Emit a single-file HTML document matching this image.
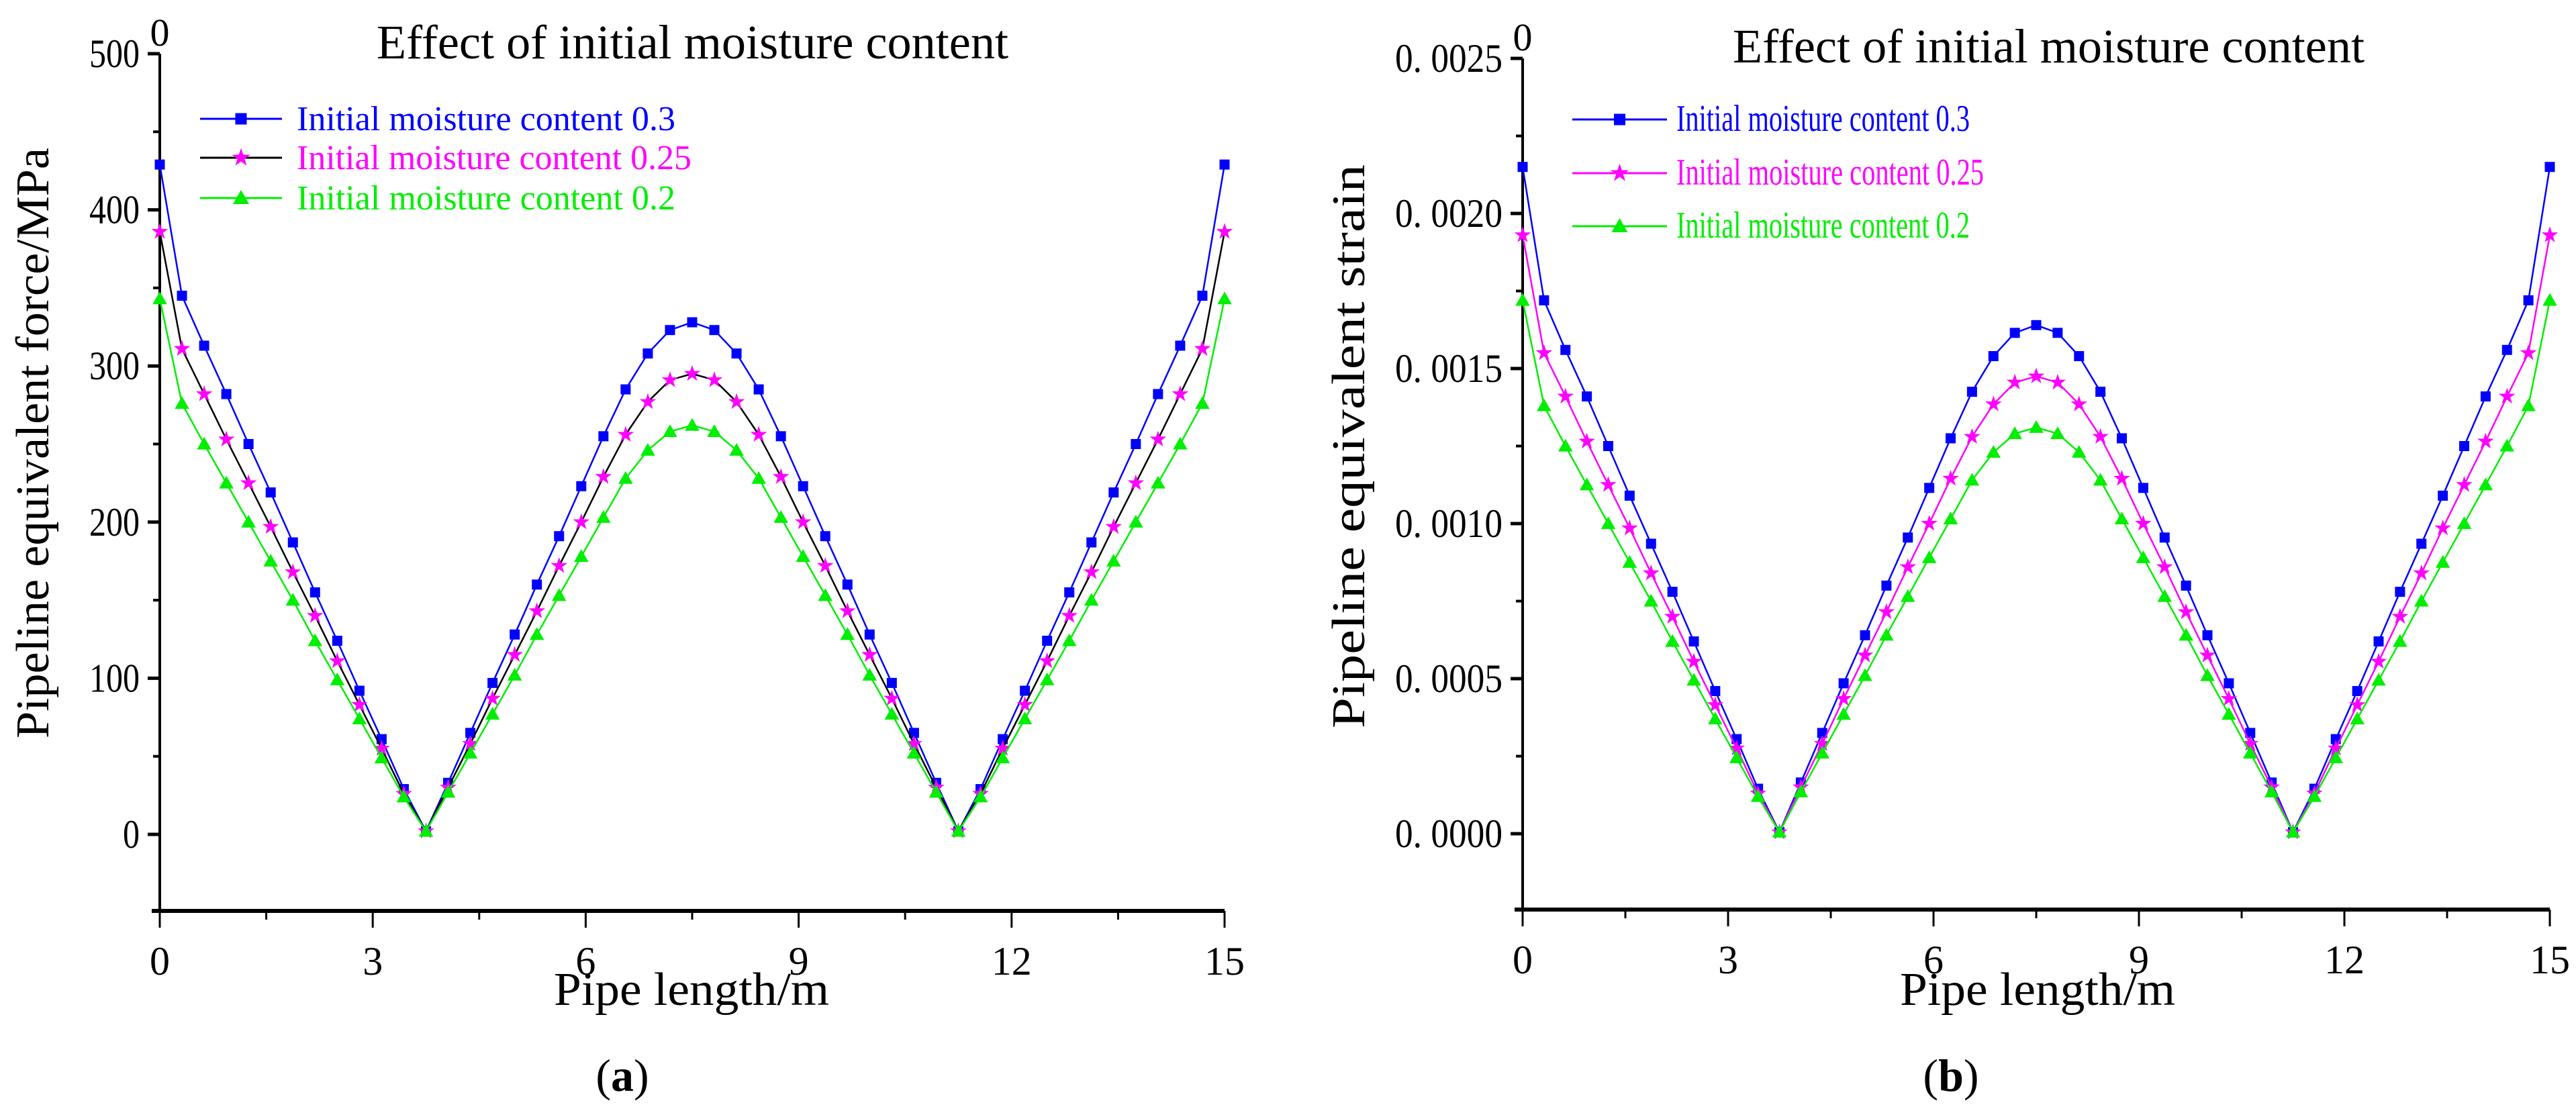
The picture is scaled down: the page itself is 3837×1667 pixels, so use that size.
<!DOCTYPE html>
<html><head><meta charset="utf-8"><style>
html,body{margin:0;padding:0;background:#fff;}
svg{display:block;}
text{font-family:"Liberation Serif",serif;fill:#000;}
</style></head><body>
<svg id="fig" width="3837" height="1667" viewBox="0 0 3837 1667" xmlns="http://www.w3.org/2000/svg">
<rect width="3837" height="1667" fill="#fff"/>
</svg>
<script>
// x positions (pipe length, m)
const xVals = [0,0.3125,0.625,0.9375,1.25,1.5625,1.875,2.1875,2.5,2.8125,3.125,3.4375,3.75,4.0625,4.375,4.6875,5,5.3125,5.625,5.9375,6.25,6.5625,6.875,7.1875,7.5,7.8125,8.125,8.4375,8.75,9.0625,9.375,9.6875,10,10.3125,10.625,10.9375,11.25,11.5625,11.875,12.1875,12.5,12.8125,13.125,13.4375,13.75,14.0625,14.375,14.6875,15];
// force (MPa), first half 0..7.5 m (profile symmetric about 7.5 m)
const force03Half  = [429,345,313,282,250,219,187,155,124,92,61,29,2,33,65,97,128,160,191,223,255,285,308,323,328];
const force025Half = [386,311,282,253,225,197,168,140,111,83,55,26,2,30,58,87,115,143,172,200,229,256,277,291,295];
const force02Half  = [343,276,250,225,200,175,150,124,99,74,49,24,2,27,52,77,102,128,153,178,203,228,246,258,262];
// strain, first half
const strain03Half  = [0.00215,0.00172,0.00156,0.00141,0.00125,0.00109,0.000935,0.00078,0.00062,0.00046,0.000305,0.000145,0.000005,0.000165,0.000325,0.000485,0.00064,0.0008,0.000955,0.001115,0.001275,0.001425,0.00154,0.001615,0.00164];
const strain025Half = [0.00193,0.00155,0.00141,0.001265,0.001125,0.000985,0.00084,0.0007,0.000555,0.000415,0.000275,0.00013,0.000005,0.00015,0.00029,0.000435,0.000575,0.000715,0.00086,0.001,0.001145,0.00128,0.001385,0.001455,0.001475];
const strain02Half  = [0.00172,0.00138,0.00125,0.001125,0.001,0.000875,0.00075,0.00062,0.000495,0.00037,0.000245,0.00012,0.000005,0.000135,0.00026,0.000385,0.00051,0.00064,0.000765,0.00089,0.001015,0.00114,0.00123,0.00129,0.00131];
const xTicks = [0,3,6,9,12,15];
const forceTicks = [0,100,200,300,400,500];
const forceTickLabels = ["0","100","200","300","400","500"];
const strainTicks = [0,0.0005,0.001,0.0015,0.002,0.0025];
const strainTickLabels = ["0. 0000","0. 0005","0. 0010","0. 0015","0. 0020","0. 0025"];
const legendLabels = ["Initial moisture content 0.3","Initial moisture content 0.25","Initial moisture content 0.2"];

function mirror(h){ return h.concat(h.slice(0,-1).reverse()); }

const NS="http://www.w3.org/2000/svg";
const svg=document.getElementById('fig');
function mk(tag,attrs,parent){const e=document.createElementNS(NS,tag);for(const k in attrs)e.setAttribute(k,attrs[k]);(parent||svg).appendChild(e);return e;}

function marker(g,type,cx,cy,color,s){
  let e;
  if(type==='square'){e=mk('rect',{x:cx-s/2,y:cy-s/2,width:s,height:s,fill:color},g);}
  else if(type==='star'){
    let pts=[];for(let i=0;i<10;i++){const r=i%2?s*0.28:s*0.72;const a=-Math.PI/2+i*Math.PI/5;pts.push((cx+r*Math.cos(a)).toFixed(1)+','+(cy+r*Math.sin(a)).toFixed(1));}
    e=mk('polygon',{points:pts.join(' '),fill:color},g);
  } else {
    e=mk('polygon',{points:`${cx},${cy-s*0.6} ${cx-s*0.6},${cy+s*0.45} ${cx+s*0.6},${cy+s*0.45}`,fill:color},g);
  }
  return e;
}

function chart(c){
  const g=mk('g',{});
  
  
  const X=v=>c.x0+(v-0)/(15-0)*(c.x1-c.x0);
  const Y=v=>c.yZero+(v-0)/(c.yMax-0)*(c.yTop-c.yZero);
  const ya=mk('line',{x1:c.x0,y1:c.yTop,x2:c.x0,y2:c.axisY,stroke:'#000','stroke-width':4},g);
  
  const xa=mk('line',{x1:c.x0-12,y1:c.axisY,x2:c.x1,y2:c.axisY,stroke:'#000','stroke-width':6},g);
  
  c.yTicks.forEach((t,i)=>{
    const y=Y(t);
    mk('line',{x1:c.x0-18,y1:y,x2:c.x0,y2:y,stroke:'#000','stroke-width':5},g);
    if(i<c.yTicks.length-1){const ym=Y((t+c.yTicks[i+1])/2);mk('line',{x1:c.x0-10,y1:ym,x2:c.x0,y2:ym,stroke:'#000','stroke-width':4},g);}
    const tl=mk('text',{x:c.x0-30,y:y+20,'font-size':60,'text-anchor':'end',textLength:c.tickW(c.yLabels[i]),lengthAdjust:'spacingAndGlyphs'},g);
    tl.textContent=c.yLabels[i];
    
  });
  xTicks.forEach((t,i)=>{
    const x=X(t);
    mk('line',{x1:x,y1:c.axisY,x2:x,y2:c.axisY+25,stroke:'#000','stroke-width':3},g);
    if(i<xTicks.length-1){const xm=X(t+1.5);mk('line',{x1:xm,y1:c.axisY,x2:xm,y2:c.axisY+13,stroke:'#000','stroke-width':3},g);}
    const tl=mk('text',{x:x,y:c.axisY+95,'font-size':60,'text-anchor':'middle'},g);
    tl.textContent=String(t);
    
  });
  const z=mk('text',{x:c.x0,y:c.yTop-12,'font-size':58,'text-anchor':'middle'},g);z.textContent='0';
  
  const tt=mk('text',{x:c.titleX,y:c.titleY,'font-size':72,'text-anchor':'start',textLength:941,lengthAdjust:'spacingAndGlyphs'},g);tt.textContent='Effect of initial moisture content';
  
  const xt=mk('text',{x:c.xTitleX,y:1497,'font-size':70,'text-anchor':'middle',textLength:410,lengthAdjust:'spacingAndGlyphs'},g);xt.textContent='Pipe length/m';
  
  const yt=mk('text',{x:0,y:0,'font-size':70,'text-anchor':'middle',textLength:c.yTitleW,lengthAdjust:'spacingAndGlyphs',transform:`translate(${c.yTitleX},${c.yTitleY}) rotate(-90)`},g);yt.textContent=c.yTitle;
  
  const pl=mk('text',{x:c.panelX,y:1625,'font-size':68,'text-anchor':'middle'},g);
  pl.innerHTML='(<tspan font-weight="bold">'+c.panel+'</tspan>)';
  
  c.series.forEach((s,si)=>{
    const sg=mk('g',{},g);
    
    
    const pts=s.data.map((v,i)=>X(xVals[i]).toFixed(1)+','+Y(v).toFixed(1)).join(' ');
    const ln=mk('polyline',{points:pts,fill:'none',stroke:s.line,'stroke-width':2.5},sg);
    
    
    s.data.forEach((v,i)=>{
      const m=marker(sg,s.type,X(xVals[i]),Y(v),s.color,s.size);
      
      
    });
    const ly=c.legY[si];
    const lg=mk('g',{},g);
    
    
    mk('line',{x1:c.legX0,y1:ly,x2:c.legX1,y2:ly,stroke:s.line,'stroke-width':3},lg);
    marker(lg,s.type,(c.legX0+c.legX1)/2,ly,s.color,s.size+2);
    const lt=mk('text',{x:c.legTX,y:ly+17,'font-size':c.legFont,fill:s.color,textLength:c.legW[si],lengthAdjust:'spacingAndGlyphs','font-family':c.legFam},lg);
    lt.style.fill=s.color;
    lt.textContent=legendLabels[si];
  });
}

chart({name:'chart-force',x0:238,x1:1824,yZero:1243,yTop:80,yMax:500,axisY:1357,
  yTicks:forceTicks,yLabels:forceTickLabels,tickW:s=>s.length*25,
  titleX:561,titleY:87,xTitleX:1030,yTitleX:72,yTitleY:660,yTitleW:880,yTitle:'Pipeline equivalent force/MPa',
  panelX:927,panel:'a',
  legX0:298,legX1:420,legTX:442,legY:[177,235,295],legW:[564,588,564],legFont:52,legFam:'"Liberation Mono",monospace',
  series:[
    {key:'mc-0.3',data:mirror(force03Half),color:'#0000ff',line:'#0000ff',type:'square',size:15},
    {key:'mc-0.25',data:mirror(force025Half),color:'#ff00ff',line:'#000000',type:'star',size:18},
    {key:'mc-0.2',data:mirror(force02Half),color:'#00ee00',line:'#00ee00',type:'tri',size:18}
  ]});
chart({name:'chart-strain',x0:2268,x1:3798,yZero:1242,yTop:87,yMax:0.0025,axisY:1355,
  yTicks:strainTicks,yLabels:strainTickLabels,tickW:s=>160,
  titleX:2581,titleY:93,xTitleX:3035,yTitleX:2032,yTitleY:665,yTitleW:840,yTitle:'Pipeline equivalent strain',
  panelX:2906,panel:'b',
  legX0:2342,legX1:2483,legTX:2497,legY:[178,258,337],legW:[437,458,437],legFont:56,legFam:'"Liberation Serif",serif',
  series:[
    {key:'mc-0.3',data:mirror(strain03Half),color:'#0000ff',line:'#0000ff',type:'square',size:15},
    {key:'mc-0.25',data:mirror(strain025Half),color:'#ff00ff',line:'#ff00ff',type:'star',size:18},
    {key:'mc-0.2',data:mirror(strain02Half),color:'#00ee00',line:'#00ee00',type:'tri',size:18}
  ]});
</script>
</body></html>
